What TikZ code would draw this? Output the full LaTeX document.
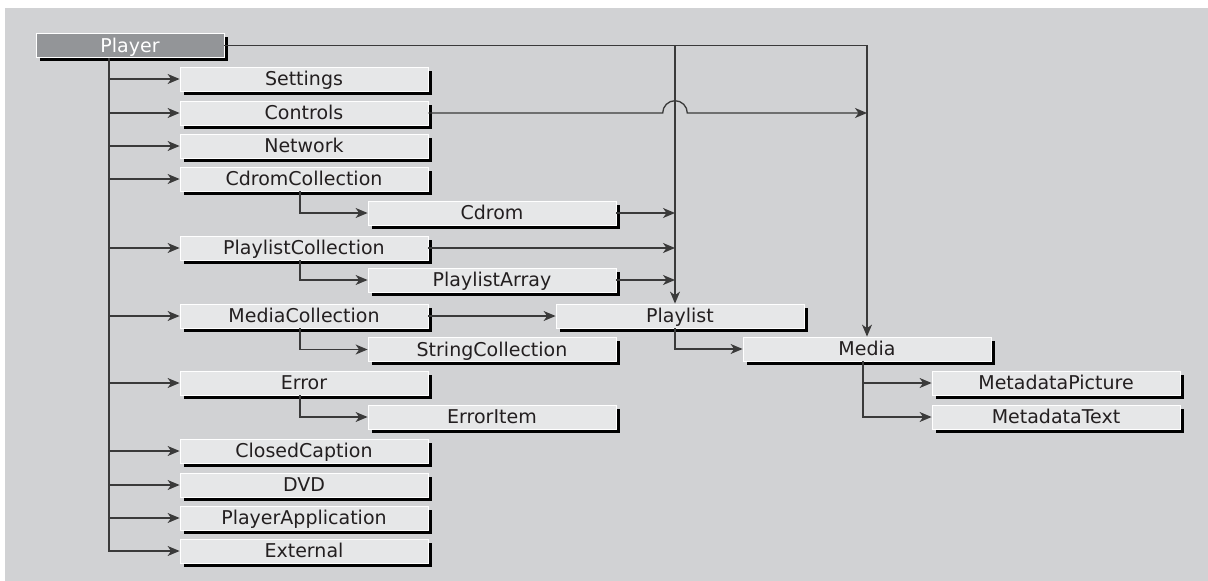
\documentclass[tikz,border=0pt]{standalone}
\usepackage{fontspec}
\newfontfamily\labfont{DejaVu Sans}
\usetikzlibrary{arrows.meta,shadows}
\definecolor{bgc}{HTML}{D1D2D4}
\definecolor{boxc}{HTML}{E6E7E8}
\definecolor{playerc}{HTML}{939598}
\definecolor{txtc}{HTML}{231F20}
\definecolor{linec}{HTML}{3A3A3A}
\begin{document}
\begin{tikzpicture}[x=1pt,y=-1pt,
  box/.style={rectangle, draw=white, line width=0.8pt, fill=boxc,
    minimum width=248pt, minimum height=24pt, inner sep=0pt,
    text height=13.9pt, text depth=0pt,
    font=\labfont\fontsize{19}{22}\selectfont, text=txtc,
    drop shadow={shadow xshift=3.6pt, shadow yshift=-3.6pt, fill=black, opacity=1}},
  rootbox/.style={box, fill=playerc, text=white, minimum width=188pt, minimum height=23.5pt},
  conn/.style={draw=linec, line width=1.3pt},
  arr/.style={conn, -{Stealth[length=12pt,width=10pt,inset=3.5pt]}}]
\useasboundingbox (0,0) rectangle (1208,581);
\fill[white] (0,0) rectangle (1208,581);
\fill[bgc] (5,8) rectangle (1208,581);

% nodes
\node[rootbox] (Player) at (130,45.5) {Player};
\node[box] (Settings) at (304,79) {Settings};
\node[box] (Controls) at (304,113) {Controls};
\node[box] (Network) at (304,146) {Network};
\node[box] (CdromCollection) at (304,179) {CdromCollection};
\node[box] (Cdrom) at (492,213) {Cdrom};
\node[box] (PlaylistCollection) at (304,248) {PlaylistCollection};
\node[box] (PlaylistArray) at (492,280) {PlaylistArray};
\node[box] (MediaCollection) at (304,316) {MediaCollection};
\node[box] (Playlist) at (680,316) {Playlist};
\node[box] (StringCollection) at (492,349.5) {StringCollection};
\node[box] (Media) at (867,349) {Media};
\node[box] (Error) at (304,383) {Error};
\node[box] (MetadataPicture) at (1056,383) {MetadataPicture};
\node[box] (ErrorItem) at (492,417) {ErrorItem};
\node[box] (MetadataText) at (1056,417) {MetadataText};
\node[box] (ClosedCaption) at (304,451) {ClosedCaption};
\node[box] (DVD) at (304,485) {DVD};
\node[box] (PlayerApplication) at (304,518) {PlayerApplication};
\node[box] (External) at (304,551) {External};

\coordinate (t) at (109,0);
\coordinate (w) at (300,0);
\coordinate (v) at (675,0);
\coordinate (m) at (863,0);

% trunk from Player
\draw[arr] (Player.south -| t) |- (External.west);
\foreach \n in {Settings,Controls,Network,CdromCollection,PlaylistCollection,MediaCollection,Error,ClosedCaption,DVD,PlayerApplication}
  \draw[arr] (\n.west -| t) -- (\n.west);

% Player to Media and Playlist
\draw[arr] (Player.east) -| (Media.north);
\draw[arr] (Player.east -| v) -- (Playlist.north -| v);

% Controls to Media column with jump
\draw[arr] (Controls.east) -- ([xshift=-12.3pt]Controls.east -| v)
  arc[start angle=180, end angle=0, radius=12.3pt]
  -- (Controls.east -| Media.north);

% into Playlist column
\draw[arr] (Cdrom.east) -- (Cdrom.east -| v);
\draw[arr] (PlaylistCollection.east) -- (PlaylistCollection.east -| v);
\draw[arr] (PlaylistArray.east) -- (PlaylistArray.east -| v);
\draw[arr] (MediaCollection.east) -- (Playlist.west);

% sub branches
\draw[arr] (CdromCollection.south -| w) |- (Cdrom.west);
\draw[arr] (PlaylistCollection.south -| w) |- (PlaylistArray.west);
\draw[arr] (MediaCollection.south -| w) |- (StringCollection.west);
\draw[arr] (Error.south -| w) |- (ErrorItem.west);

% Playlist to Media
\draw[arr] (Playlist.south -| v) |- (Media.west);

% Media to metadata
\draw[arr] (Media.south -| m) |- (MetadataText.west);
\draw[arr] (MetadataPicture.west -| m) -- (MetadataPicture.west);
\end{tikzpicture}
\end{document}
